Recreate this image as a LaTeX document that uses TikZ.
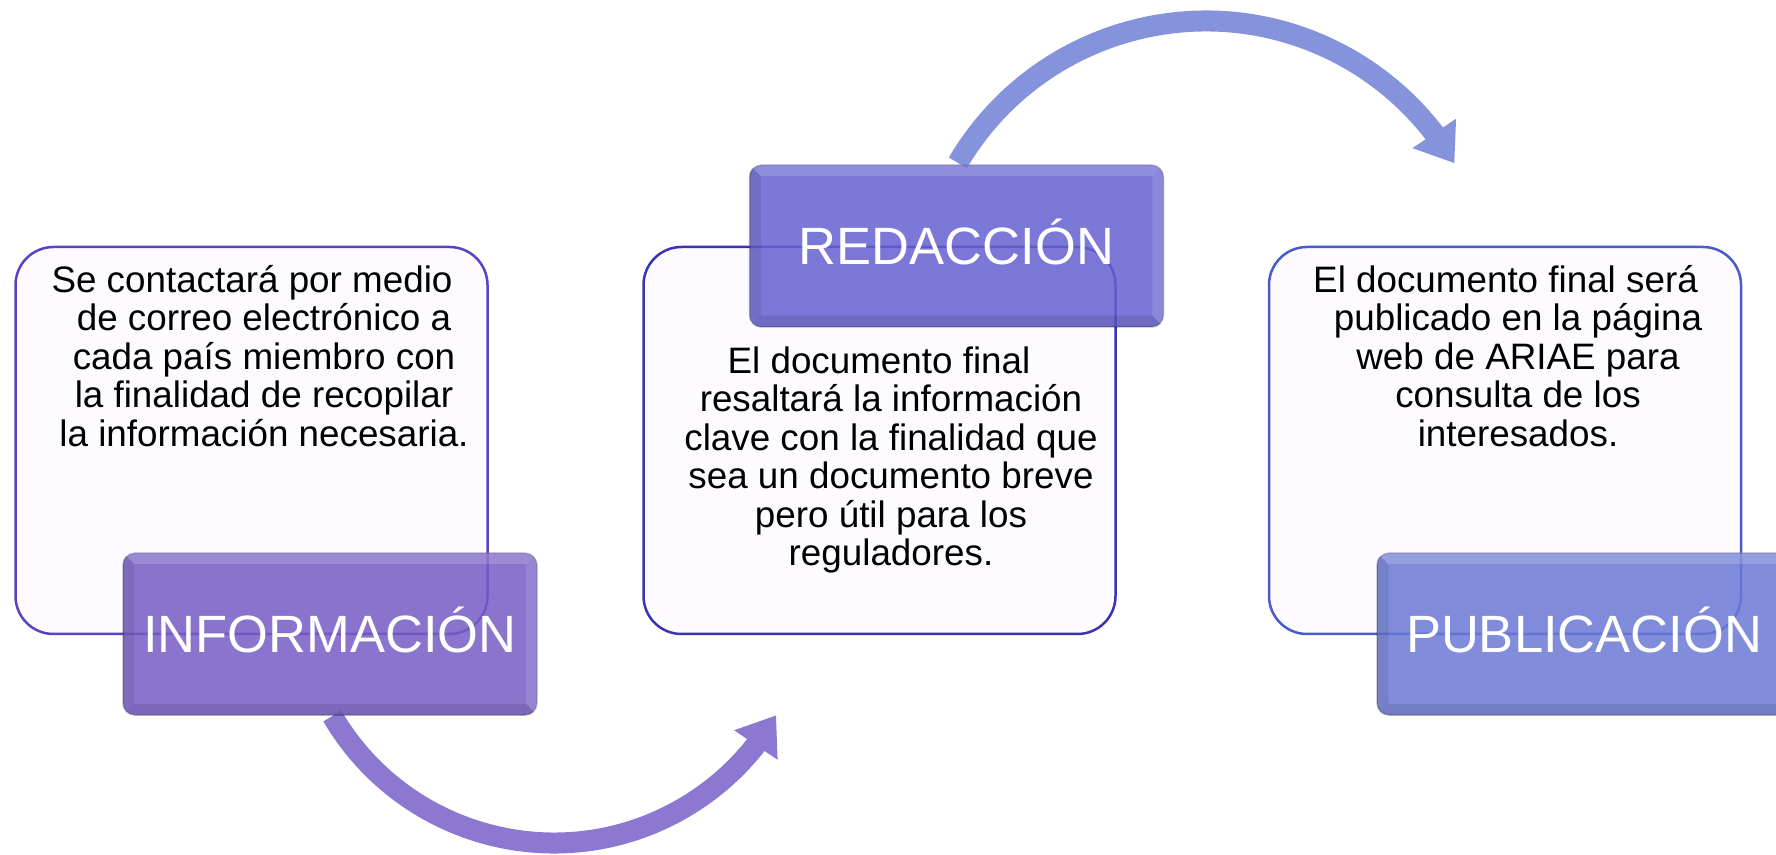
\documentclass[tikz,border=0pt]{standalone}
\usepackage{fontspec}
\setmainfont{Liberation Sans}
\usetikzlibrary{arrows.meta,bending}
\definecolor{boxfill}{HTML}{FDFBFF}
\definecolor{bordA}{HTML}{5A42C2}
\definecolor{bordB}{HTML}{3934B5}
\definecolor{bordC}{HTML}{4A5BC8}
\definecolor{hdrA}{RGB}{119,92,197}
\definecolor{hdrB}{RGB}{102,97,208}
\definecolor{hdrC}{RGB}{107,121,213}
\definecolor{arcA}{HTML}{8C78D0}
\definecolor{arcB}{HTML}{8592DC}
\newcommand\hbevel[1]{%
  \begin{scope}
    \clip[rounded corners=12pt] (#1.south west) rectangle (#1.north east);
    \fill[white, opacity=0.16] (#1.north west) -- (#1.north east) -- ([shift={(-12pt,-12pt)}]#1.north east) -- ([shift={(12pt,-12pt)}]#1.north west) -- cycle;
    \fill[white, opacity=0.12] (#1.north east) -- (#1.south east) -- ([shift={(-12pt,12pt)}]#1.south east) -- ([shift={(-12pt,-12pt)}]#1.north east) -- cycle;
    \fill[black, opacity=0.08] (#1.north west) -- ([shift={(12pt,-12pt)}]#1.north west) -- ([shift={(12pt,12pt)}]#1.south west) -- (#1.south west) -- cycle;
    \fill[black, opacity=0.10] (#1.south west) -- ([shift={(12pt,12pt)}]#1.south west) -- ([shift={(-12pt,12pt)}]#1.south east) -- (#1.south east) -- cycle;
  \end{scope}}
\begin{document}
\begin{tikzpicture}[x=1pt,y=1pt,
  txtbox/.style={draw=#1, line width=2.5pt, fill=boxfill, rounded corners=38pt,
    minimum width=472pt, minimum height=387pt, inner sep=0pt},
  hdr/.style={fill=#1, fill opacity=0.85, text opacity=1, draw=black, draw opacity=0.18,
    line width=1.5pt, rounded corners=12pt, minimum width=414pt, minimum height=162pt,
    text=white, font=\fontsize{52.5}{60}\selectfont, text height=38pt, text depth=0pt, inner sep=0pt},
  body/.style={font=\fontsize{36.8}{38.5}\selectfont, align=center, anchor=north, inner sep=0pt},
  flow/.style={line width=21pt, -{Triangle[length=36pt,width=50pt,flex]}}]
\useasboundingbox (0,0) rectangle (1776,854);
\clip (0,0) rectangle (1776,854);
\fill[white] (0,0) rectangle (1776,854);

% text boxes
\node[txtbox=bordA] (b1) at (251.5,413.5) {};
\node[txtbox=bordB] (b2) at (879.5,413.5) {};
\node[txtbox=bordC] (b3) at (1505,413.5) {};

% curved arrows
\coordinate (c1) at (554,268);
\coordinate (c2) at (1206,545);
\draw[flow, arcA] ([shift={(210.4:257)}]c1) arc[start angle=210.4, end angle=329.8, radius=257];
\draw[flow, arcB] ([shift={(149.5:288)}]c2) arc[start angle=149.5, end angle=30.4, radius=288];

% headers
\node[hdr=hdrA] (h1) at (330,220) {INFORMACIÓN};
\hbevel{h1}
\node[hdr=hdrB] (h2) at (956.5,608) {REDACCIÓN};
\hbevel{h2}
\node[hdr=hdrC] (h3) at (1584,220) {PUBLICACIÓN};
\hbevel{h3}

% body texts
\node[body] (t1) at (264,602) {\rule{0pt}{40pt}Se contactará por medio\kern24pt\\
  de correo electrónico a\\ cada país miembro con\\ la finalidad de recopilar\\ la información necesaria.};
\node[body] (t2) at (891,521) {\rule{0pt}{40pt}El documento final\kern24pt\\
  resaltará la información\\ clave con la finalidad que\\ sea un documento breve\\ pero útil para los\\ reguladores.};
\node[body] (t3) at (1518,602) {\rule{0pt}{40pt}El documento final será\kern25pt\\
  publicado en la página\\ web de ARIAE para\\ consulta de los\\ interesados.};
\end{tikzpicture}
\end{document}
